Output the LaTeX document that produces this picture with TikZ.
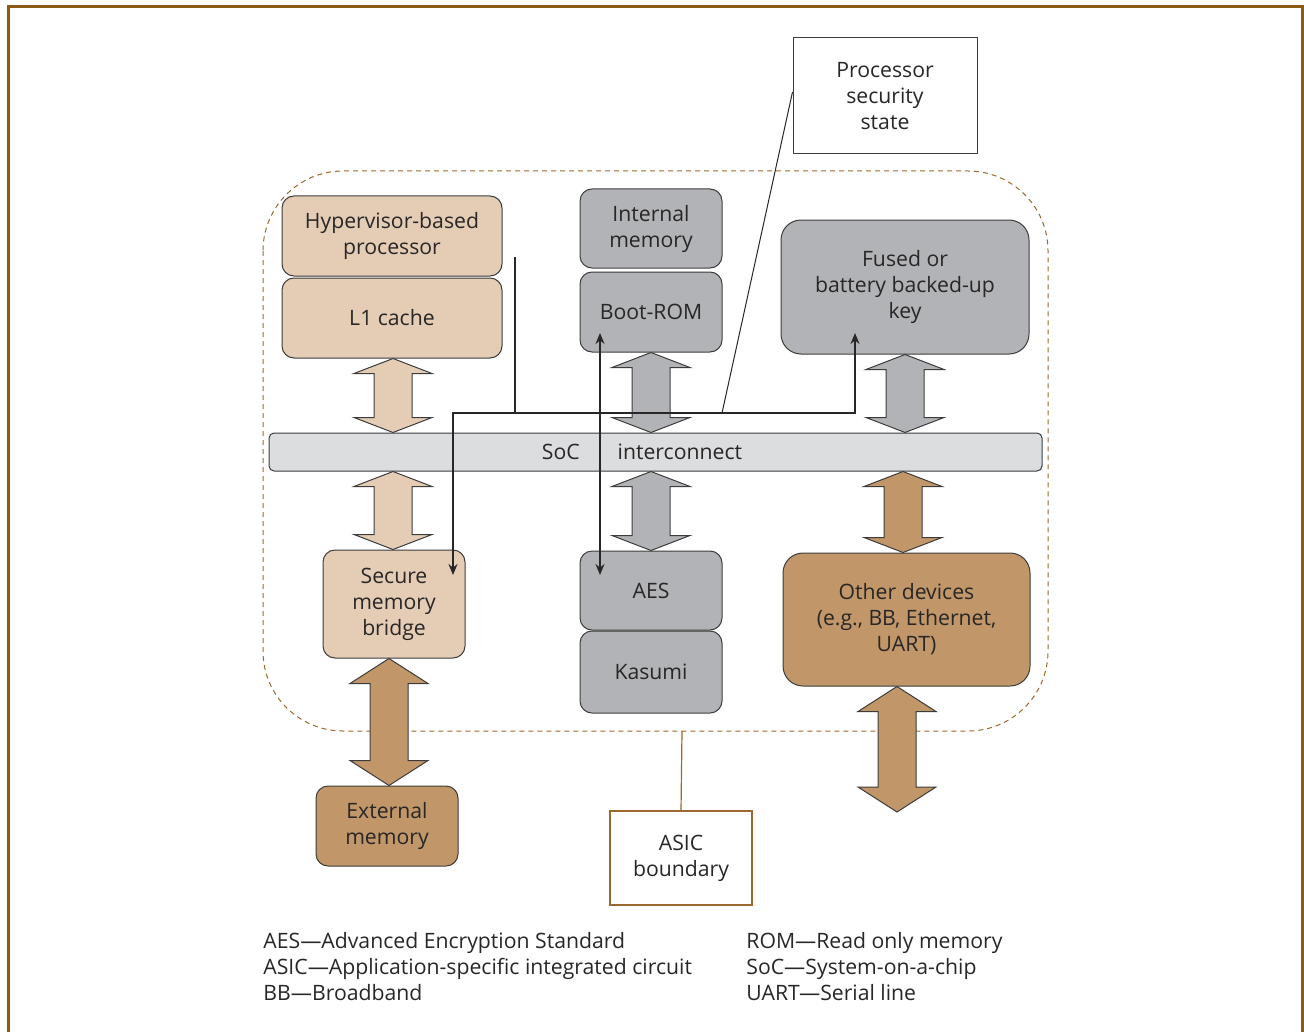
\documentclass[tikz,border=0pt]{standalone}
\usepackage{fontspec}
\setmainfont{Open Sans}
\usetikzlibrary{arrows.meta,calc}

\definecolor{framebrown}{RGB}{139,90,20}
\definecolor{dashbrown}{RGB}{155,105,45}
\definecolor{tanlight}{RGB}{229,205,181}
\definecolor{tandark}{RGB}{193,151,105}
\definecolor{boxgray}{RGB}{177,179,182}
\definecolor{busgray}{RGB}{220,221,223}
\definecolor{inkgray}{RGB}{40,38,38}
\definecolor{edgegray}{RGB}{60,60,60}

% x, from, to, head length, fill
\newcommand{\busarrow}[5]{%
  \draw[edgegray,line width=0.5pt,fill=#5,line join=miter]
    let \p0=(#1,0), \p1=(#2), \p2=(#3) in
    (\x0,\y1) -- ++(19.5pt,-#4) -- ++(-10pt,0) -- (\x0+9.5pt,\y2+#4) -- ++(10pt,0)
    -- (\x0,\y2) -- ++(-19.5pt,#4) -- ++(10pt,0) -- (\x0-9.5pt,\y1-#4) -- ++(-10pt,0) -- cycle;}

\begin{document}
\begin{tikzpicture}[x=0.5pt,y=-0.5pt,
  font=\fontsize{10.6}{13}\selectfont, text=inkgray,
  blk/.style={draw=edgegray,line width=0.5pt,rounded corners=6pt,align=center,inner sep=0pt},
  tanbox/.style={blk,fill=tanlight},
  graybox/.style={blk,fill=boxgray},
  brownbox/.style={blk,fill=tandark},
  route/.style={inkgray,line width=0.8pt},
  legend/.style={anchor=west,align=left,inner sep=0pt},
  >={Stealth[length=5.5pt,width=4.5pt]}]
\useasboundingbox (0,0) rectangle (1304,1032);
\draw[framebrown,line width=1.5pt] (8,1032) -- (8,7) -- (1302,7) -- (1302,1032);

\draw[dashbrown,line width=0.5pt,dash pattern=on 2.5pt off 2pt,rounded corners=40pt] (263,171) rectangle (1048,731);

\node[tanbox,minimum width=110pt,minimum height=40pt] (hyp) at (392,236) {Hypervisor-based\\processor};
\node[tanbox,minimum width=110pt,minimum height=40pt] (l1) at (392,318) {L1 cache};
\node[graybox,minimum width=71pt,minimum height=39.5pt] (intmem) at (651,228.5) {Internal\\memory};
\node[graybox,minimum width=71pt,minimum height=40pt] (bootrom) at (651,312) {Boot-ROM};
\node[graybox,rounded corners=10pt,minimum width=124pt,minimum height=67pt] (key) at (905,287) {Fused or\\battery backed-up\\key};

\node[draw=edgegray,line width=0.5pt,fill=busgray,rounded corners=2.5pt,minimum width=386.5pt,minimum height=19pt] (soc) at (655.5,452) {};
\node (soctext) at (642,452) {SoC\hspace{19pt}interconnect};

\node[tanbox,minimum width=71pt,minimum height=54pt] (bridge) at (394,604) {Secure\\memory\\bridge};
\node[graybox,minimum width=71pt,minimum height=39.5pt] (aes) at (651,590.5) {AES};
\node[graybox,minimum width=71pt,minimum height=41pt] (kasumi) at (651,672) {Kasumi};
\node[brownbox,rounded corners=10pt,minimum width=123.5pt,minimum height=66.5pt] (other) at (906.5,619.5) {Other devices\\(e.g., BB, Ethernet,\\UART)};
\node[brownbox,minimum width=71pt,minimum height=40pt] (extmem) at (387,826) {External\\memory};

\node[draw=edgegray,line width=0.5pt,fill=white,align=center,minimum width=92pt,minimum height=58pt] (pss) at (885,96) {Processor\\security\\state};
\node[draw=dashbrown,line width=0.6pt,fill=white,align=center,minimum width=71pt,minimum height=47pt] (asic) at (681,858) {ASIC\\boundary};

\coordinate (edge) at (682,731);
\draw[dashbrown,line width=0.6pt] (edge) -- (asic.north);

\coordinate (ostub) at (897,812);
\busarrow{393}{l1.south}{soc.north}{7.5pt}{tanlight}
\busarrow{393}{soc.south}{bridge.north}{7.5pt}{tanlight}
\busarrow{651}{bootrom.south}{soc.north}{7.5pt}{boxgray}
\busarrow{651}{soc.south}{aes.north}{7.5pt}{boxgray}
\busarrow{905}{key.south}{soc.north}{7.5pt}{boxgray}
\busarrow{903}{soc.south}{other.north}{7.5pt}{tandark}
\busarrow{389}{bridge.south}{extmem.north}{12.5pt}{tandark}
\busarrow{897}{other.south}{ostub}{12.5pt}{tandark}

\coordinate (hv) at (515,257);
\coordinate (jn) at (515,413);
\coordinate (bt) at (453,575);
\coordinate (kt) at (855,333);
\coordinate (tap) at (722,413);
\coordinate (rt) at (600,333);
\coordinate (at) at (600,575);
\draw[route,->] (hv) -- (jn) -| (bt);
\draw[route,->] (jn) -| (kt);
\draw[route,<->] (rt) -- (at);
\draw[inkgray,line width=0.5pt] ([yshift=2pt]pss.west) -- (tap);

\node[legend] (legl) at (263,967) {AES—Advanced Encryption Standard\\ASIC—Application-specific integrated circuit\\BB—Broadband};
\node[legend] (legr) at (746,967) {ROM—Read only memory\\SoC—System-on-a-chip\\UART—Serial line};
\end{tikzpicture}
\end{document}
